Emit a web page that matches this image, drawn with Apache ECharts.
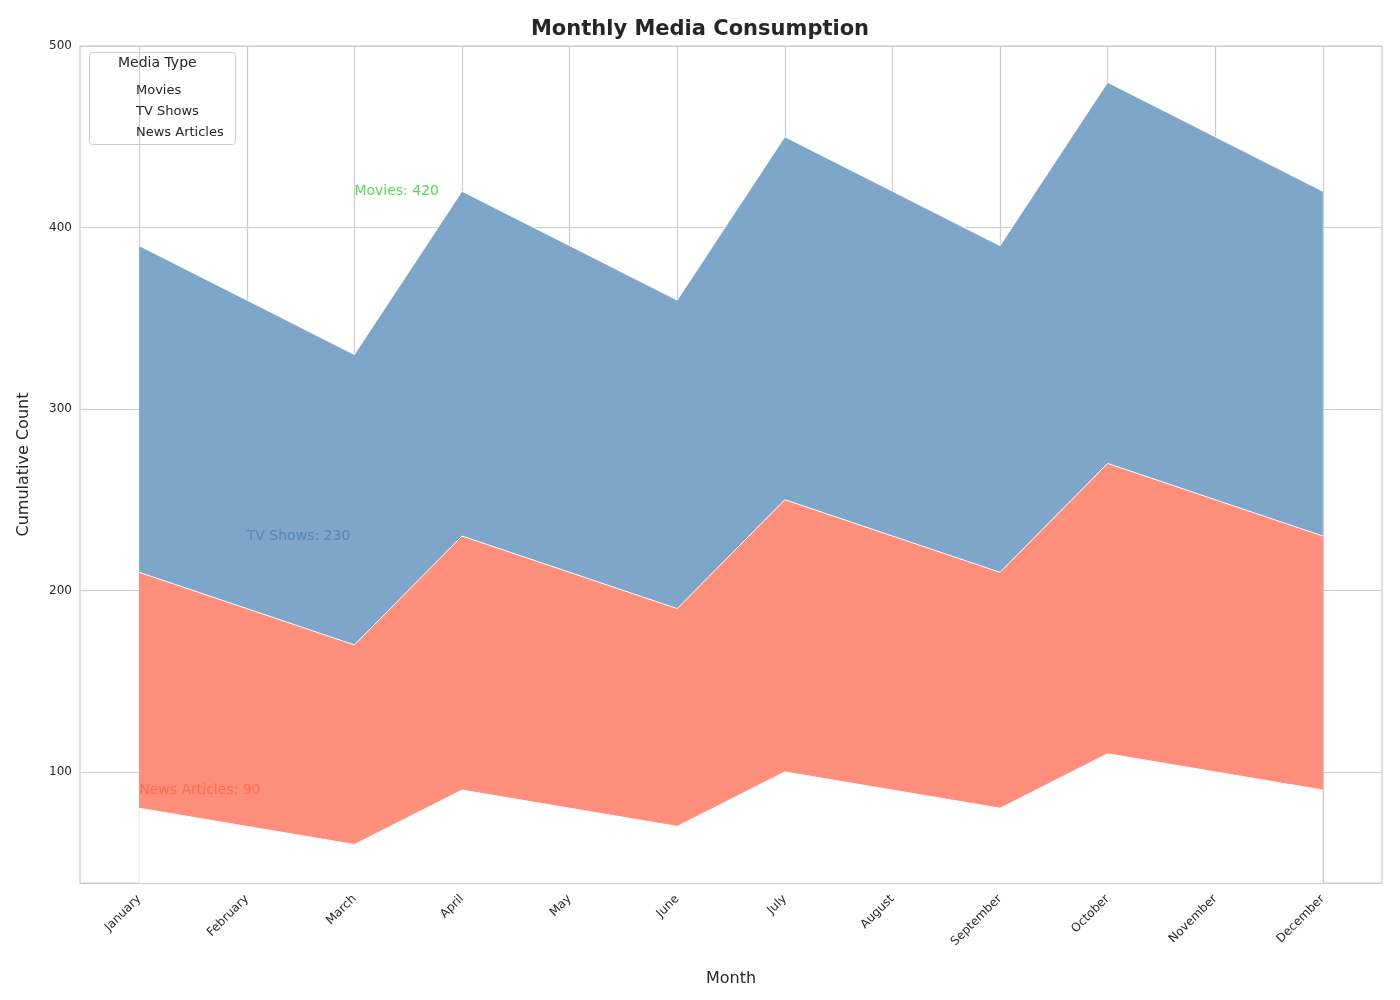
<!DOCTYPE html>
<html><head><meta charset="utf-8">
<script src="https://cdn.jsdelivr.net/npm/echarts@6/dist/echarts.min.js"></script>
<style>html,body{margin:0;padding:0;background:#fff}#chart{width:1400px;height:1000px}</style>
</head><body><div id="chart"></div>
<script>
var months = ['January','February','March','April','May','June','July','August','September','October','November','December'];
var news = [80,70,60,90,80,70,100,90,80,110,100,90];
var tvShows = [130,120,110,140,130,120,150,140,130,160,150,140];
var movies = [180,170,160,190,180,170,200,190,180,210,200,190];
var notes = [
    {text: 'Movies: 420', x: 2, y: 420, color: '#2ecc2e'},
    {text: 'TV Shows: 230', x: 1, y: 230, color: '#4682b4'},
    {text: 'News Articles: 90', x: 0, y: 90, color: '#ff6347'}
];
var idx = months.map(function (m, i) { return i; });
// cumulative tops built from the arrays
var cumNews = news.slice();
var cumTv = news.map(function (v, i) { return v + tvShows[i]; });
var cumAll = cumTv.map(function (v, i) { return v + movies[i]; });
function pairs(arr) { return arr.map(function (v, i) { return [i, v]; }); }

var myChart = echarts.init(document.getElementById('chart'));
var font = 'DejaVu Sans';
function area(name, arr, fill, z) {
    return {name: name, type: 'line', data: pairs(arr), symbol: 'none', z: z,
        lineStyle: {color: '#ffffff', width: 1}, itemStyle: {color: '#ffffff'},
        areaStyle: {color: fill, opacity: 1, origin: 'start'}};
}
var option = {
    textStyle: {fontFamily: font},
    title: {
        text: 'Monthly Media Consumption', left: 'center', top: 14,
        textStyle: {fontSize: 21, fontWeight: 'bold', color: '#262626', fontFamily: font}
    },
    grid: {left: 80, right: 18, top: 46, bottom: 117, show: true, borderColor: '#cccccc', borderWidth: 1.2},
    legend: {
        left: 96, top: 79, orient: 'vertical', icon: 'rect', itemWidth: 30, itemHeight: 0,
        itemGap: 8, selectedMode: false,
        data: ['Movies', 'TV Shows', 'News Articles'],
        textStyle: {fontSize: 13, color: '#262626'}
    },
    graphic: [
        {type: 'rect', left: 89, top: 52, shape: {width: 146, height: 92, r: 3},
         style: {fill: '#fff', stroke: '#cccccc', lineWidth: 1}, z: 0},
        {type: 'text', left: 118, top: 56, style: {text: 'Media Type', fontSize: 14, fill: '#262626', fontFamily: font}, z: 1}
    ],
    xAxis: {
        type: 'value', min: -0.55, max: 11.55,
        name: 'Month', nameLocation: 'middle', nameGap: 88,
        nameTextStyle: {fontSize: 16, color: '#262626'},
        axisLine: {show: false},
        axisTick: {show: false, customValues: idx},
        axisLabel: {customValues: idx, rotate: 45, fontSize: 12, color: '#262626', margin: 14,
            formatter: function (v) { return months[Math.round(v)]; }},
        splitLine: {show: true, lineStyle: {color: '#cccccc', width: 1.2}}
    },
    yAxis: {
        type: 'value', min: 38.8, max: 500,
        name: 'Cumulative Count', nameLocation: 'middle', nameGap: 48,
        nameTextStyle: {fontSize: 16, color: '#262626'},
        axisLine: {show: false}, axisTick: {show: false},
        axisLabel: {customValues: [100, 200, 300, 400, 500], fontSize: 12, color: '#262626'},
        splitLine: {show: true, lineStyle: {color: '#cccccc', width: 1.2}}
    },
    series: [
        area('Movies', cumAll, '#7ea6ca', 2),
        area('TV Shows', cumTv, '#ff8f7b', 3),
        area('News Articles', cumNews, '#ffffff', 4),
        {type: 'scatter', symbolSize: 0, silent: true, z: 6,
         data: notes.map(function (n) {
             return {value: [n.x, n.y], label: {show: true, position: 'right', distance: 0,
                 formatter: n.text, color: n.color, fontSize: 14}};
         })}
    ]
};
myChart.setOption(option);
</script></body></html>
